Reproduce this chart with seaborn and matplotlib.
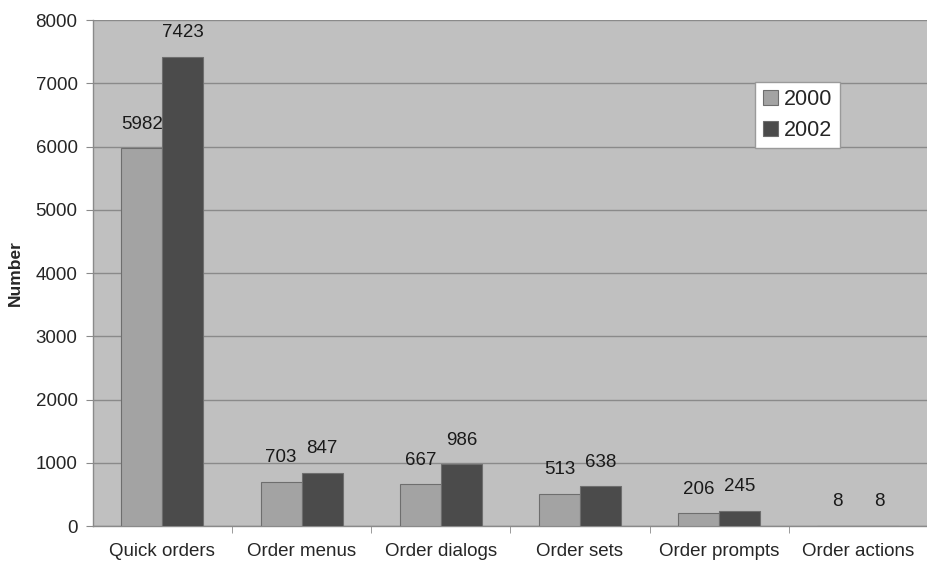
import pandas as pd
import matplotlib.pyplot as plt
import seaborn as sns
from matplotlib.ticker import FixedLocator

categories = ['Quick orders', 'Order menus', 'Order dialogs', 'Order sets',
              'Order prompts', 'Order actions']
years = ['2000', '2002']
counts_2000 = [5982, 703, 667, 513, 206, 8]
counts_2002 = [7423, 847, 986, 638, 245, 8]

df = pd.DataFrame({
    'category': categories * 2,
    'year': [years[0]] * len(categories) + [years[1]] * len(categories),
    'count': counts_2000 + counts_2002,
})

sns.set_style('white')
plt.rcParams['font.family'] = ['Liberation Sans', 'DejaVu Sans']

fig = plt.figure(figsize=(9.28, 5.61), dpi=100)
ax = fig.add_axes([0.1, 0.062, 0.9, 0.902])
ax.set_facecolor('#c0c0c0')

sns.barplot(data=df, x='category', y='count', hue='year', order=categories,
            hue_order=years, palette=['#a3a3a3', '#4b4b4b'], width=0.59,
            edgecolor='#6e6e6e', linewidth=0.8, saturation=1, ax=ax, zorder=3)

for cont in ax.containers:
    ax.bar_label(cont, padding=11, fontsize=13.5, color='#1a1a1a')

ax.set_ylim(0, 8000)
ax.set_yticks(range(0, 8001, 1000))
ax.yaxis.grid(True, color='#8a8a8a', linewidth=1, zorder=0)
ax.set_axisbelow(True)
ax.set_xlim(-0.5, 5.5)

ax.tick_params(axis='x', which='major', length=0, labelsize=13.5, pad=12)
ax.xaxis.set_minor_locator(FixedLocator([0.5, 1.5, 2.5, 3.5, 4.5]))
ax.tick_params(axis='x', which='minor', length=5, color='#8a8a8a', bottom=True)
ax.tick_params(axis='y', length=5, color='#8a8a8a', labelsize=13.5, left=True, pad=6)

for s in ['top', 'right']:
    ax.spines[s].set_visible(False)
for s in ['left', 'bottom']:
    ax.spines[s].set_color('#8a8a8a')
    ax.spines[s].set_linewidth(1)

ax.set_xlabel('')
ax.set_ylabel('Number', fontsize=12.5, fontweight='bold', labelpad=9)

leg = ax.legend(loc='upper left', bbox_to_anchor=(0.78, 0.9), fontsize=15.5,
                frameon=True, fancybox=False, edgecolor='#9a9a9a',
                handlelength=0.7, handleheight=0.7, handletextpad=0.3,
                borderpad=0.35, labelspacing=0.45, title=None)
leg.get_frame().set_facecolor('white')
leg.get_frame().set_alpha(1)

plt.savefig('out.png', dpi=100)
